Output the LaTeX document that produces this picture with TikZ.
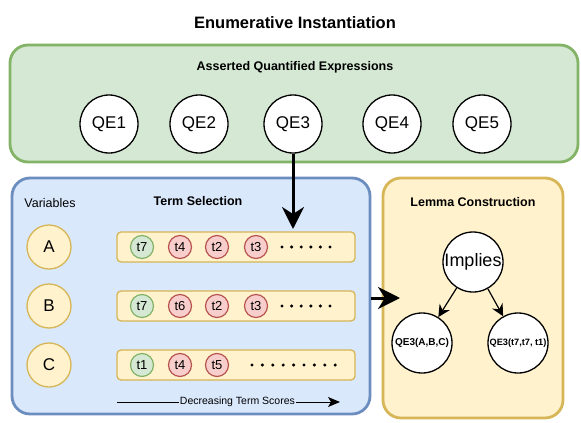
\documentclass[tikz,border=0pt]{standalone}
\usepackage{fontspec}
\setmainfont{Liberation Sans}
\usetikzlibrary{arrows.meta}

\definecolor{greenfill}{HTML}{D5E8D4}
\definecolor{greenline}{HTML}{82B366}
\definecolor{bluefill}{HTML}{DAE8FC}
\definecolor{blueline}{HTML}{6C8EBF}
\definecolor{yellowfill}{HTML}{FFF2CC}
\definecolor{yellowline}{HTML}{D6B656}
\definecolor{redfill}{HTML}{F8CECC}
\definecolor{redline}{HTML}{B85450}

\tikzset{
  panel/.style={draw, line width=2.8pt, rounded corners=18pt, inner sep=0pt},
  qe/.style={circle, draw, fill=white, line width=1.3pt, minimum size=58pt, inner sep=0pt, font=\fontsize{17}{19}\selectfont},
  var/.style={circle, draw=yellowline, fill=yellowfill, line width=1.3pt, minimum size=44pt, inner sep=0pt, font=\fontsize{17}{19}\selectfont},
  termrow/.style={draw=yellowline, fill=yellowfill, line width=1.3pt, rounded corners=4pt, minimum width=238pt, minimum height=30pt},
  good/.style={circle, draw=greenline, fill=greenfill, line width=1.2pt, minimum size=23pt, inner sep=0pt, font=\fontsize{13}{15}\selectfont},
  bad/.style={circle, draw=redline, fill=redfill, line width=1.2pt, minimum size=23pt, inner sep=0pt, font=\fontsize{13}{15}\selectfont},
  heading/.style={font=\bfseries\fontsize{12.5}{14}\selectfont},
  bigarrow/.style={line width=3pt, -{Stealth[length=22pt, width=22pt, inset=7pt]}},
  smallarrow/.style={line width=1.2pt, -{Stealth[length=12pt, width=12pt, inset=4pt]}},
  lemma/.style={circle, draw, fill=white, line width=1.3pt, minimum size=60pt, inner sep=0pt},
}

\begin{document}
\begin{tikzpicture}[x=1pt, y=-1pt]
    \useasboundingbox (0,0) rectangle (581,423);
    % Title
    \node[font=\bfseries\fontsize{16.5}{19}\selectfont] (title) at (295,23) {Enumerative Instantiation};
    % Asserted quantified expressions
    \node[panel, draw=greenline, fill=greenfill, minimum width=568pt, minimum height=117pt] (asserted) at (294,103.5) {};
    \node[heading] (assertedlabel) at (295,67) {Asserted Quantified Expressions};
    \node[qe] (qe1) at (109,124) {QE1};
    \node[qe] (qe2) at (199,124) {QE2};
    \node[qe] (qe3) at (293,124) {QE3};
    \node[qe] (qe4) at (392,124) {QE4};
    \node[qe] (qe5) at (482,124) {QE5};
    % Term selection
    \node[panel, draw=blueline, fill=bluefill, minimum width=358pt, minimum height=236pt] (selection) at (191,296) {};
    \node[font=\fontsize{12.5}{14}\selectfont] (varlabel) at (50,203) {Variables};
    \node[heading] (selectionlabel) at (198,201) {Term Selection};
    \node[var] (varA) at (49,247) {A};
    \node[var] (varB) at (49,306) {B};
    \node[var] (varC) at (49,365) {C};
    \node[termrow] (rowA) at (236,247) {};
    \node[termrow] (rowB) at (236,306) {};
    \node[termrow] (rowC) at (236,365) {};
    \node[good] (a1) at (142,247) {t7};
    \node[bad]  (a2) at (180,247) {t4};
    \node[bad]  (a3) at (217,247) {t2};
    \node[bad]  (a4) at (256,247) {t3};
    \node[good] (b1) at (142,306) {t7};
    \node[bad]  (b2) at (180,306) {t6};
    \node[bad]  (b3) at (217,306) {t2};
    \node[bad]  (b4) at (256,306) {t3};
    \node[good] (c1) at (142,365) {t1};
    \node[bad]  (c2) at (180,365) {t4};
    \node[bad]  (c3) at (217,365) {t5};
    \foreach \i in {0,...,5} {
        \fill (282+9.6*\i,247) circle (1.7pt);
        \fill (282+9.6*\i,306) circle (1.7pt);
    }
    \foreach \i in {0,...,8} {
        \fill (252+10.4*\i,365) circle (1.7pt);
    }
    \coordinate (scorestart) at (117,402);
    \coordinate (scoreend) at (340,402);
    \draw[line width=1pt, -{Stealth[length=12pt, width=10pt, inset=3pt]}] (scorestart) -- (scoreend)
        node[pos=0.54, fill=bluefill, inner sep=1pt, font=\fontsize{10.5}{12}\selectfont] {Decreasing Term Scores};
    % Lemma construction
    \node[panel, draw=yellowline, fill=yellowfill, minimum width=180pt, minimum height=240pt] (construction) at (473,298) {};
    \node[heading] (constructionlabel) at (473,202) {Lemma Construction};
    \node[lemma, font=\fontsize{18}{20}\selectfont] (implies) at (473,262) {Implies};
    \node[lemma, font=\bfseries\fontsize{10}{11}\selectfont] (premise) at (422,343) {QE3(A,B,C)};
    \node[lemma, font=\bfseries\fontsize{9.2}{10}\selectfont] (conclusion) at (518,343) {QE3(t7,t7, t1)};
    \draw[smallarrow] (implies) -- (premise);
    \draw[smallarrow] (implies) -- (conclusion);
    % Flow arrows
    \coordinate (rowAtop) at (293,229);
    \draw[bigarrow] (qe3.south) -- (rowAtop);
    \coordinate (lemmain) at (400,298);
    \draw[bigarrow] (selection.east |- lemmain) -- (lemmain);
\end{tikzpicture}
\end{document}
